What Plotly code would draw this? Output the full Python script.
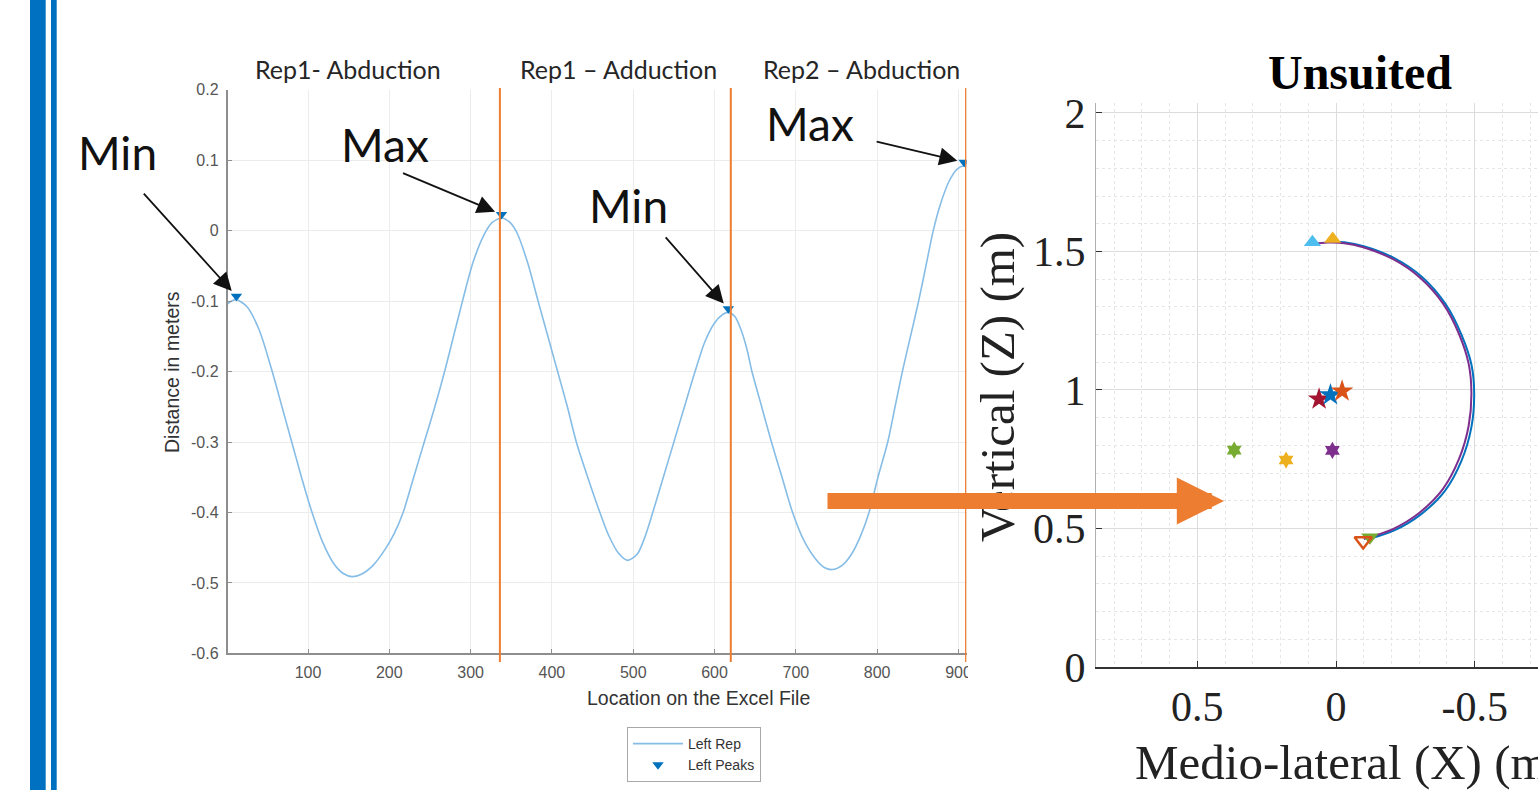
import plotly.graph_objects as go

W, H = 1538, 790


def px(x):
    return x / W


def py(y):
    return 1 - y / H


# ---------------- Left chart data (Left Rep) ----------------
rep_x = [1, 6, 12, 25, 40, 56, 68, 80, 92, 105, 118, 132, 144, 154, 165, 180, 195, 206, 217, 230,
         243, 256, 268, 279, 290, 303, 316, 326, 338, 348, 357, 370, 383, 395, 407, 419, 430, 444,
         459, 470, 482, 493, 505, 514, 524, 537, 550, 563, 576, 588, 600, 610, 617, 625, 633, 640,
         646, 658, 670, 683, 696, 710, 725, 735, 745, 757, 768, 779, 790, 801, 813, 822, 831, 841,
         851, 860, 869, 878, 888, 898, 907, 910]
rep_y = [-0.104, -0.100, -0.098, -0.108, -0.141, -0.200, -0.250, -0.300, -0.350, -0.400, -0.442,
         -0.473, -0.487, -0.491, -0.488, -0.475, -0.452, -0.430, -0.400, -0.350, -0.300, -0.250,
         -0.200, -0.150, -0.100, -0.045, -0.007, 0.011, 0.018, 0.012, -0.003, -0.045, -0.100,
         -0.150, -0.200, -0.250, -0.300, -0.350, -0.400, -0.433, -0.458, -0.468, -0.459, -0.436,
         -0.400, -0.350, -0.300, -0.250, -0.200, -0.158, -0.131, -0.119, -0.116, -0.122, -0.142,
         -0.169, -0.200, -0.250, -0.300, -0.350, -0.400, -0.440, -0.467, -0.478, -0.481, -0.475,
         -0.460, -0.435, -0.400, -0.350, -0.300, -0.250, -0.200, -0.150, -0.100, -0.050, 0.000,
         0.038, 0.069, 0.087, 0.092, 0.091]

peaks_x = [12, 338, 617, 907]
peaks_y = [-0.093, 0.023, -0.111, 0.097]
peak_labels = ["Min", "Max", "Min", "Max"]

rep_bounds = [336, 620, 909]
section_labels = ["Rep1- Abduction", "Rep1 \u2013 Adduction", "Rep2 \u2013 Abduction"]

left_xticks = [100, 200, 300, 400, 500, 600, 700, 800, 900]
left_xtick_text = ["100", "200", "300", "400", "500", "600", "700", "800", "900"]
left_yticks = [-0.6, -0.5, -0.4, -0.3, -0.2, -0.1, 0, 0.1, 0.2]
left_ytick_text = ["-0.6", "-0.5", "-0.4", "-0.3", "-0.2", "-0.1", "0", "0.1", "0.2"]

# ---------------- Right chart data (Unsuited) ----------------
purple_x = [0.082, 0.030, -0.030, -0.098, -0.206, -0.303, -0.387, -0.443, -0.478, -0.488, -0.478,
            -0.443, -0.385, -0.302, -0.205, -0.125, -0.100]
purple_y = [1.527, 1.532, 1.530, 1.515, 1.472, 1.405, 1.310, 1.203, 1.095, 0.988, 0.870, 0.750,
            0.642, 0.558, 0.498, 0.470, 0.462]
blue_x = [0.012, -0.030, -0.100, -0.210, -0.310, -0.395, -0.452, -0.488, -0.498, -0.488, -0.452,
          -0.392, -0.307, -0.208, -0.130, -0.110]
blue_y = [1.535, 1.533, 1.519, 1.476, 1.408, 1.310, 1.200, 1.092, 0.988, 0.866, 0.744, 0.635,
          0.552, 0.492, 0.466, 0.462]

start_x = [0.085, 0.012]
start_y = [1.533, 1.545]
start_colors = ["#4DBEEE", "#EDB120"]

end_x = [-0.122, -0.098]
end_y = [0.468, 0.455]
end_colors = ["#77AC30", "#D95319"]

star_x = [0.061, 0.020, -0.022]
star_y = [0.967, 0.982, 0.996]
star_colors = ["#A2142F", "#0072BD", "#D95319"]

hex_x = [0.367, 0.180, 0.013]
hex_y = [0.783, 0.747, 0.782]
hex_colors = ["#77AC30", "#EDB120", "#7E2F8E"]

right_xticks = [0.5, 0, -0.5]
right_xtick_text = ["0.5", "0", "-0.5"]
right_yticks = [0, 0.5, 1, 1.5, 2]
right_ytick_text = ["0", "0.5", "1", "1.5", "2"]

# ---------------- Figure ----------------
fig = go.Figure()

fig.add_trace(go.Scatter(x=rep_x, y=rep_y, mode="lines", name="Left Rep",
                         line=dict(color="#86BDE6", width=1.6, shape="spline", smoothing=0.8),
                         xaxis="x", yaxis="y"))
fig.add_trace(go.Scatter(x=peaks_x, y=peaks_y, mode="markers", name="Left Peaks",
                         marker=dict(symbol="triangle-down", color="#0072BD", size=10,
                                     line=dict(width=0)),
                         xaxis="x", yaxis="y"))

fig.add_trace(go.Scatter(x=blue_x, y=blue_y, mode="lines", showlegend=False,
                         line=dict(color="#0072BD", width=2, shape="spline"),
                         xaxis="x2", yaxis="y2"))
fig.add_trace(go.Scatter(x=purple_x, y=purple_y, mode="lines", showlegend=False,
                         line=dict(color="#7E2F8E", width=2, shape="spline"),
                         xaxis="x2", yaxis="y2"))
fig.add_trace(go.Scatter(x=start_x, y=start_y, mode="markers", showlegend=False,
                         marker=dict(symbol="triangle-up", color=start_colors, size=15,
                                     line=dict(width=0)),
                         xaxis="x2", yaxis="y2"))
fig.add_trace(go.Scatter(x=end_x[:1], y=end_y[:1], mode="markers", showlegend=False,
                         marker=dict(symbol="triangle-down", color=end_colors[0], size=15,
                                     line=dict(width=0)),
                         xaxis="x2", yaxis="y2"))
fig.add_trace(go.Scatter(x=end_x[1:], y=end_y[1:], mode="markers", showlegend=False,
                         marker=dict(symbol="triangle-down-open", color=end_colors[1], size=15,
                                     line=dict(width=2.5, color=end_colors[1])),
                         xaxis="x2", yaxis="y2"))
fig.add_trace(go.Scatter(x=star_x, y=star_y, mode="markers", showlegend=False,
                         marker=dict(symbol="star", color=star_colors, size=17,
                                     line=dict(width=0)),
                         xaxis="x2", yaxis="y2"))
fig.add_trace(go.Scatter(x=hex_x, y=hex_y, mode="markers", showlegend=False,
                         marker=dict(symbol="hexagram", color=hex_colors, size=13,
                                     line=dict(width=0)),
                         xaxis="x2", yaxis="y2"))

sans = "Liberation Sans, Arial, sans-serif"
serif = "Liberation Serif, Times New Roman, serif"
cal = "Lato, Carlito, sans-serif"

fig.update_layout(
    width=W, height=H, margin=dict(l=0, r=0, t=0, b=0, pad=0, autoexpand=False),
    paper_bgcolor="white", plot_bgcolor="white",
    xaxis=dict(domain=[px(227.5), px(966.6)], range=[1, 910], anchor="y",
               tickvals=left_xticks, ticktext=left_xtick_text,
               showgrid=True, gridcolor="#ECECEC", gridwidth=1, zeroline=False,
               showline=True, linecolor="#8E8E8E", linewidth=1.5,
               ticks="inside", ticklen=5, tickcolor="#8E8E8E",
               ticklabelstandoff=4,
               tickfont=dict(family=sans, size=16, color="#555555")),
    yaxis=dict(domain=[py(653.4), py(89.7)], range=[-0.6, 0.2], anchor="x",
               tickvals=left_yticks, ticktext=left_ytick_text,
               showgrid=True, gridcolor="#ECECEC", gridwidth=1, zeroline=False,
               showline=True, linecolor="#8E8E8E", linewidth=1.5,
               ticks="inside", ticklen=5, tickcolor="#8E8E8E",
               ticklabelstandoff=4,
               tickfont=dict(family=sans, size=16, color="#555555")),
    xaxis2=dict(domain=[px(1096), 1.0], range=[0.865, -0.728], anchor="y2",
                tickvals=right_xticks, ticktext=right_xtick_text,
                showgrid=True, gridcolor="#DCDCDC", gridwidth=1, zeroline=False,
                minor=dict(dtick=0.1, tick0=0, showgrid=True, gridcolor="#E6E6E6",
                           griddash="dot", gridwidth=1),
                showline=True, linecolor="#333333", linewidth=1.5,
                ticks="inside", ticklen=6, tickcolor="#333333",
                ticklabelstandoff=2,
                tickfont=dict(family=serif, size=42, color="#222222")),
    yaxis2=dict(domain=[py(667), py(103)], range=[0, 2.036], anchor="x2",
                tickvals=right_yticks, ticktext=right_ytick_text,
                showgrid=True, gridcolor="#DCDCDC", gridwidth=1, zeroline=False,
                minor=dict(dtick=0.1, tick0=0, showgrid=True, gridcolor="#E6E6E6",
                           griddash="dot", gridwidth=1),
                showline=True, linecolor="#B0B0B0", linewidth=1.2,
                ticks="inside", ticklen=6, tickcolor="#333333",
                ticklabelstandoff=1,
                tickfont=dict(family=serif, size=42, color="#222222")),
    legend=dict(x=px(627), y=py(727), xanchor="left", yanchor="top",
                bgcolor="white", bordercolor="#A8A8A8", borderwidth=1,
                font=dict(family=sans, size=14, color="#333333"),
                itemwidth=50, tracegroupgap=0),
    showlegend=True,
)

shapes = []
# decorative blue slide bars
shapes.append(dict(type="rect", xref="paper", yref="paper", x0=px(30), x1=px(45.7), y0=0, y1=1,
                   fillcolor="#0070C0", line=dict(width=0), layer="below"))
shapes.append(dict(type="rect", xref="paper", yref="paper", x0=px(51), x1=px(56.7), y0=0, y1=1,
                   fillcolor="#0070C0", line=dict(width=0), layer="below"))
# rep boundary lines
for i, b in enumerate(rep_bounds):
    shapes.append(dict(type="line", xref="x", yref="paper", x0=b, x1=b, y0=py(662), y1=py(88),
                       line=dict(color="#ED7D31", width=2 if i < 2 else 1.5), layer="above"))
# mask cut-off part of the left picture
shapes.append(dict(type="rect", xref="paper", yref="paper", x0=px(968), x1=px(992), y0=py(692),
                   y1=py(658), fillcolor="white", line=dict(width=0), layer="above"))
fig.update_layout(shapes=shapes)

ann = []
# section headers
section_centers = [348, 618, 861]
for lab, cx in zip(section_labels, section_centers):
    ann.append(dict(text=lab, xref="paper", yref="paper", x=px(cx), y=py(69), showarrow=False,
                    xanchor="center", yanchor="middle",
                    font=dict(family=cal, size=25, color="#262626")))
# Min / Max labels
label_pos = [(117, 152), (385, 145), (628, 205), (810, 124)]
for lab, (lx, ly) in zip(peak_labels, label_pos):
    ann.append(dict(text=lab, xref="paper", yref="paper", x=px(lx), y=py(ly), showarrow=False,
                    xanchor="center", yanchor="middle",
                    font=dict(family=cal, size=46, color="#111111")))
# arrows to peaks
arrow_tails = [(-94, -104), (-100, -42), (-64, -73), (-89, -21)]
for (xx, yy), (ax, ay) in zip(zip(peaks_x, peaks_y), arrow_tails):
    ann.append(dict(text="", x=xx, y=yy, xref="x", yref="y", ax=ax, ay=ay,
                    showarrow=True, arrowhead=2, arrowsize=2.0, arrowwidth=1.8,
                    arrowcolor="#111111", standoff=7))
# left axis titles
ann.append(dict(text="Distance in meters", xref="paper", yref="paper", x=px(172), y=py(372),
                textangle=-90, showarrow=False, xanchor="center", yanchor="middle",
                font=dict(family=sans, size=19.5, color="#333333")))
ann.append(dict(text="Location on the Excel File", xref="paper", yref="paper", x=px(698),
                y=py(698), showarrow=False, xanchor="center", yanchor="middle",
                font=dict(family=sans, size=19.5, color="#333333")))
# right chart texts
ann.append(dict(text="<b>Unsuited</b>", xref="paper", yref="paper", x=px(1360), y=py(72),
                showarrow=False, xanchor="center", yanchor="middle",
                font=dict(family=serif, size=48, color="#000000")))
ann.append(dict(text="Vertical (Z) (m)", xref="paper", yref="paper", x=px(998), y=py(387),
                textangle=-90, showarrow=False, xanchor="center", yanchor="middle",
                font=dict(family=serif, size=49, color="#222222")))
ann.append(dict(text="Medio-lateral (X) (m)", xref="paper", yref="paper", x=px(1133), y=py(762),
                showarrow=False, xanchor="left", yanchor="middle",
                font=dict(family=serif, size=49, color="#222222")))
# big orange arrow (drawn last, on top)
ann.append(dict(text="", xref="paper", yref="paper", x=px(1224), y=py(501), ax=-(1224 - 826),
                ay=0, showarrow=True, arrowhead=2, arrowsize=0.59, arrowwidth=16,
                arrowcolor="#ED7D31", standoff=0))
fig.update_layout(annotations=ann)

fig.write_html("out.html")
